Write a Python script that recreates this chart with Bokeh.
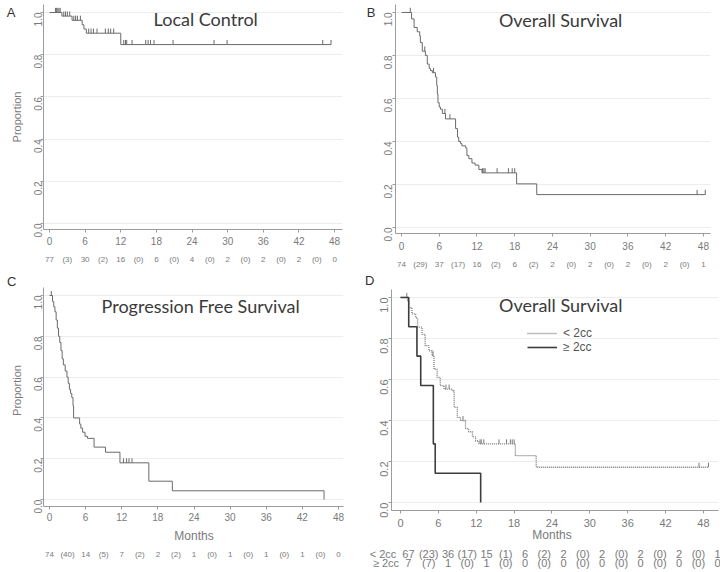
import math
import numpy as np
from bokeh.plotting import figure
from bokeh.layouts import column, row
from bokeh.models import (LinearAxis, FixedTicker, NumeralTickFormatter, Label,
                          Legend, LegendItem, Range1d)
from bokeh.embed import file_html
from bokeh.resources import INLINE

# ---------------- data ----------------
risk_months = list(range(0, 49, 3))
month_ticks = list(range(0, 49, 6))
prop_ticks = [0.0, 0.2, 0.4, 0.6, 0.8, 1.0]
panel_letters = ["A", "B", "C", "D"]
panel_titles = ["Local Control", "Overall Survival", "Progression Free Survival",
                "Overall Survival"]

# A: Local control
lc_event_t = [2.1, 3.8, 5.5, 5.8, 6.2, 12.0]
lc_event_s = [0.983, 0.963, 0.942, 0.922, 0.902, 0.848]
lc_end_t = 47.4
lc_censor_t = [1.0, 1.2, 1.4, 1.6, 1.8, 2.4, 2.7, 3.0, 3.4, 4.1, 4.4, 4.7, 5.2,
               6.6, 7.0, 7.4, 8.0, 9.4, 9.9, 10.3, 10.8, 12.5, 12.8, 13.0, 13.9,
               16.2, 16.6, 17.0, 17.6, 20.8, 27.7, 29.9, 46.0, 47.4]
lc_risk = ["77", "(3)", "30", "(2)", "16", "(0)", "6", "(0)", "4", "(0)", "2",
           "(0)", "2", "(0)", "2", "(0)", "0"]

# B: Overall survival
os_event_t = [1.6, 2.0, 2.5, 2.9, 3.0, 3.3, 3.8, 4.1, 4.4, 4.6, 4.9, 5.4, 5.6,
              5.7, 5.8, 6.0, 6.2, 6.5, 7.0, 8.6, 8.9, 9.1, 9.4, 9.6, 10.2, 10.4,
              10.7, 11.2, 11.7, 12.3, 12.8, 18.3, 21.5]
os_event_s = [0.97, 0.93, 0.91, 0.89, 0.86, 0.82, 0.80, 0.76, 0.74, 0.73, 0.72,
              0.70, 0.66, 0.62, 0.58, 0.56, 0.55, 0.53, 0.505, 0.46, 0.42, 0.40,
              0.39, 0.38, 0.37, 0.335, 0.32, 0.30, 0.29, 0.27, 0.254, 0.203, 0.153]
os_end_t = 48.3
os_censor_t = [1.4, 3.7, 5.1, 6.9, 7.7, 12.9, 13.1, 13.3, 15.2, 17.0, 17.6, 18.0,
               47.0, 48.3]
os_risk = ["74", "(29)", "37", "(17)", "16", "(2)", "6", "(2)", "2", "(0)", "2",
           "(0)", "2", "(0)", "2", "(0)", "1"]

# C: Progression free survival
pfs_event_t = [0.5, 0.7, 0.9, 1.1, 1.3, 1.5, 1.7, 1.9, 2.1, 2.3, 2.6, 2.9, 3.1,
               3.3, 3.5, 3.7, 3.9, 4.0, 5.0, 5.2, 5.5, 5.9, 6.3, 7.4, 9.3, 11.7,
               16.5, 20.4, 45.6]
pfs_event_s = [0.97, 0.945, 0.92, 0.88, 0.84, 0.80, 0.77, 0.73, 0.69, 0.66, 0.63,
               0.60, 0.57, 0.54, 0.52, 0.50, 0.46, 0.40, 0.37, 0.35, 0.33, 0.31,
               0.30, 0.257, 0.232, 0.18, 0.09, 0.043, 0.0]
pfs_end_t = 45.6
pfs_censor_t = [0.3, 12.3, 12.8, 13.2, 13.7]
pfs_risk = ["74", "(40)", "14", "(5)", "7", "(2)", "2", "(2)", "1", "(0)", "1",
            "(0)", "1", "(0)", "1", "(0)", "0"]

# D: Overall survival by volume
lt_event_t = [1.1, 1.3, 1.8, 2.4, 2.7, 3.4, 3.9, 4.5, 5.0, 5.3, 5.8, 6.3, 6.9,
              8.2, 8.5, 9.0, 9.5, 10.3, 10.8, 11.4, 11.9, 12.4, 18.2, 21.5]
lt_event_s = [0.985, 0.95, 0.92, 0.90, 0.855, 0.82, 0.765, 0.74, 0.716, 0.65,
              0.61, 0.57, 0.553, 0.545, 0.464, 0.415, 0.40, 0.36, 0.345, 0.32,
              0.30, 0.286, 0.229, 0.172]
lt_end_t = 48.8
lt_censor_t = [1.0, 5.15, 7.2, 7.7, 9.9, 12.6, 12.8, 13.2, 15.6, 16.8, 17.4,
               17.7, 18.0, 47.3, 48.8]
ge_event_t = [1.3, 2.6, 3.2, 5.2, 5.5, 12.7]
ge_event_s = [0.857, 0.714, 0.571, 0.286, 0.143, 0.0]
ge_end_t = 12.7
lt_risk = ["67", "(23)", "36", "(17)", "15", "(1)", "6", "(2)", "2", "(0)", "2",
           "(0)", "2", "(0)", "2", "(0)", "1"]
ge_risk = ["7", "(7)", "1", "(0)", "1", "(0)", "0", "(0)", "0", "(0)", "0",
           "(0)", "0", "(0)", "0", "(0)", "0"]
group_labels = ["< 2cc", "\u2265 2cc"]

# ---------------- style ----------------
AX = "#9c9c9c"
TXT = "#7a7a7a"
FONT = "Liberation Sans"
TFONT = "Lato"
CURVE = "#6a6a6a"
MARK_H = 0.022
NB = "\u00a0"


def km_xy(ev_t, ev_s, end_t):
    xs = [0.0] + list(ev_t) + [end_t]
    ys = [1.0] + list(ev_s) + [ev_s[-1]]
    return xs, ys


def censor_levels(ev_t, ev_s, c_t):
    s = np.concatenate([[1.0], ev_s])
    idx = np.searchsorted(np.asarray(ev_t), np.asarray(c_t), side="right")
    return s[idx]


def style_axis(ax, size, standoff):
    ax.axis_line_color = AX
    ax.major_tick_line_color = AX
    ax.minor_tick_line_color = None
    ax.major_tick_out = 3
    ax.major_tick_in = 0
    ax.major_label_standoff = standoff
    ax.major_label_text_font = FONT
    ax.major_label_text_font_size = size
    ax.major_label_text_color = TXT


def text_axis(p, ticks, labels, size, standoff, color=TXT, side="below",
              range_name=None, orient="horizontal"):
    kw = {}
    if range_name:
        kw["x_range_name"] = range_name
    ax = LinearAxis(ticker=FixedTicker(ticks=ticks),
                    major_label_overrides={t: l for t, l in zip(ticks, labels)},
                    **kw)
    ax.axis_line_color = None
    ax.major_tick_line_color = None
    ax.minor_tick_line_color = None
    ax.major_tick_out = 0
    ax.major_tick_in = 0
    ax.major_label_standoff = standoff
    ax.major_label_text_font = FONT
    ax.major_label_text_font_size = size
    ax.major_label_text_color = color
    ax.major_label_orientation = orient
    p.add_layout(ax, side)
    return ax


def base_fig(fw, fh, xr, yr, bl, br, bt, bb, ylabel, size, xoff, yoff,
             ybounds=None):
    p = figure(frame_width=fw, frame_height=fh, x_range=Range1d(*xr),
               y_range=Range1d(*yr), output_backend="svg", toolbar_location=None,
               min_border_left=bl, min_border_right=br, min_border_top=bt,
               min_border_bottom=bb)
    p.outline_line_color = None
    p.background_fill_color = "white"
    p.xgrid.visible = False
    p.ygrid.ticker = FixedTicker(ticks=prop_ticks)
    p.ygrid.grid_line_color = "#ededed"
    xa = p.xaxis[0]
    xa.ticker = FixedTicker(ticks=month_ticks)
    style_axis(xa, size, xoff)
    ya = p.yaxis[0]
    ya.ticker = FixedTicker(ticks=prop_ticks)
    ya.formatter = NumeralTickFormatter(format="0.0")
    ya.major_label_orientation = math.pi / 2
    if ybounds is not None:
        ya.bounds = ybounds
    style_axis(ya, size, yoff)
    if ylabel:
        ya.axis_label = ylabel
        ya.axis_label_text_font = FONT
        ya.axis_label_text_font_size = "11px"
        ya.axis_label_text_font_style = "normal"
        ya.axis_label_text_color = TXT
        ya.axis_label_standoff = 5
    return p


def draw_km(p, ev_t, ev_s, end_t, c_t, color, width=1.0, dash="solid"):
    xs, ys = km_xy(ev_t, ev_s, end_t)
    r = p.step(x=xs, y=ys, mode="after", line_color=color, line_width=width,
               line_dash=dash)
    if len(c_t):
        lv = censor_levels(ev_t, ev_s, c_t)
        p.segment(x0=c_t, y0=lv, x1=c_t, y1=lv + MARK_H, line_color=color,
                  line_width=1)
    return r


def title(p, x, y, text):
    p.add_layout(Label(x=x, y=y, text=text, text_align="center",
                       text_baseline="middle", text_font=TFONT,
                       text_font_size="18px", text_color="#3a3a3a"))


def letter(p, y, text, standoff):
    text_axis(p, [y], [text], "13px", standoff, color="#333333", side="left")


# ---------------- panel A ----------------
pA = base_fig(299, 225, (-1.01, 49.33), (-0.0284, 1.038), 43, 18, 4, 43,
              "Proportion", "10px", 4, 2)
draw_km(pA, lc_event_t, lc_event_s, lc_end_t, lc_censor_t, CURVE)
text_axis(pA, risk_months, lc_risk, "8px", 7)
title(pA, 26.3, 0.967, panel_titles[0])
letter(pA, 1.0, panel_letters[0], -8)

# ---------------- panel B ----------------
pB = base_fig(315, 229, (-0.954, 49.13), (-0.0279, 1.037), 35, 10, 4, 39,
              None, "10px", 5, 4)
draw_km(pB, os_event_t, os_event_s, os_end_t, os_censor_t, CURVE)
text_axis(pB, risk_months, os_risk, "8px", 7)
title(pB, 25.3, 0.963, panel_titles[1])
letter(pB, 1.0, panel_letters[1], 2)

# ---------------- panel C ----------------
pC = base_fig(300, 232, (-1.0, 48.83), (-0.034, 1.103), 43, 17, 2, 66,
              "Proportion", "10px", 3, 2, ybounds=(-0.034, 1.04))
draw_km(pC, pfs_event_t, pfs_event_s, pfs_end_t, pfs_censor_t, CURVE)
text_axis(pC, [24], ["Months"], "12px", 5)
text_axis(pC, risk_months, pfs_risk, "8px", 4)
title(pC, 25.1, 0.951, panel_titles[2])
letter(pC, 1.069, panel_letters[2], -9)

# ---------------- panel D ----------------
pD = base_fig(327, 236, (-1.43, 50.39), (-0.039, 1.112), 31, 2, 2, 62,
              None, "11px", 5, 4, ybounds=(-0.039, 1.04))
pD.extra_x_ranges = {"risk": Range1d(-2.8, 48.13)}
r_lt = draw_km(pD, lt_event_t, lt_event_s, lt_end_t, lt_censor_t, "#7a7a7a",
               width=1.3, dash="1 1")
r_ge = draw_km(pD, ge_event_t, ge_event_s, ge_end_t, [], "#3c3c3c", width=1.6)
text_axis(pD, [24], ["Months"], "12px", -2)
row_ticks = [-2.7] + risk_months[1:]
for risk, lab, so in zip([lt_risk, ge_risk], group_labels, [3, -6]):
    texts = [lab + NB + NB + risk[0]] + risk[1:]
    text_axis(pD, row_ticks, texts, "11px", so, "#7a7a7a", range_name="risk")
title(pD, 25.4, 0.961, panel_titles[3])
letter(pD, 1.083, panel_letters[3], -1)
legend = Legend(items=[LegendItem(label=group_labels[0], renderers=[r_lt]),
                       LegendItem(label=group_labels[1], renderers=[r_ge])],
                location=(136, 156), padding=0, margin=0, spacing=0,
                glyph_width=30, glyph_height=12, label_height=12,
                label_standoff=6, border_line_color=None,
                background_fill_alpha=0, label_text_font=FONT,
                label_text_font_size="12px", label_text_color="#555555")
pD.add_layout(legend)

layout = column(row(pA, pB), row(pC, pD))
open("out.html", "w").write(file_html(layout, INLINE))
